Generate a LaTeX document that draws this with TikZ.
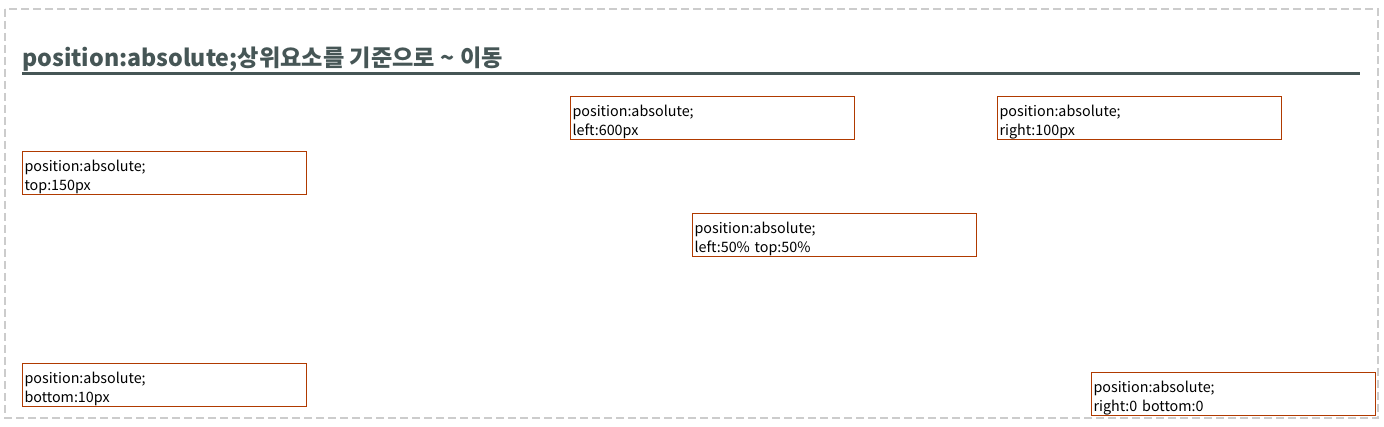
\documentclass[tikz,border=0pt]{standalone}
\usepackage{fontspec}
\setmainfont{Noto Sans CJK KR}
\definecolor{rust}{HTML}{B03A00}
\definecolor{slate}{HTML}{465656}
\definecolor{frame}{HTML}{CCCCCC}
\newcommand{\firstline}{\rule{0pt}{14pt}}
\begin{document}
\begin{tikzpicture}[x=0.75pt, y=-0.75pt,
  box/.style = {draw=rust, line width=0.75pt, anchor=north west, minimum width=213pt, minimum height=32.25pt,
    text width=210pt, inner xsep=0.75pt, inner ysep=0pt, align=left, font=\fontsize{10.75}{14.25}\selectfont},
  heading/.style = {anchor=base west, inner sep=0pt, text=slate, font=\fontsize{17.4}{21}\selectfont\bfseries}]
		\useasboundingbox (0,0) rectangle (1384,427);
		\draw[frame, line width=1.5pt, dash pattern=on 6pt off 3pt] (5,9) rectangle (1378,418);
		\node[heading] (title) at (22,67) {position:absolute;상위요소를 기준으로 \textasciitilde{} 이동};
		\coordinate (ruleL) at (22,74);
		\coordinate (ruleR) at (1360,74);
		\draw[slate, line width=2.25pt] (ruleL) -- (ruleR);
		\node[box] (left) at (570,96) {\firstline position:absolute;\\left:600px};
		\node[box] (right) at (997,96) {\firstline position:absolute;\\right:100px};
		\node[box] (top) at (22,151) {\firstline position:absolute;\\top:150px};
		\node[box] (center) at (692,213) {\firstline position:absolute;\\left:50\% top:50\%};
		\node[box] (bottom) at (22,363) {\firstline position:absolute;\\bottom:10px};
		\node[box] (corner) at (1091,372) {\firstline position:absolute;\\right:0 bottom:0};
	\end{tikzpicture}
\end{document}
